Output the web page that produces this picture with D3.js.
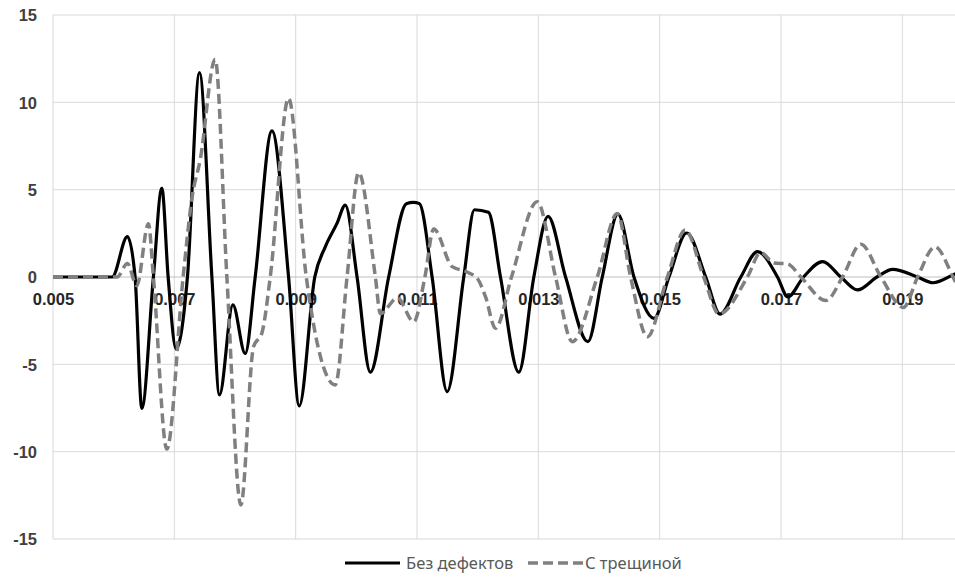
<!DOCTYPE html>
<html>
<head>
<meta charset="utf-8">
<script src="https://cdn.jsdelivr.net/npm/d3@7"></script>
<style>
  html, body { margin: 0; padding: 0; background: #fff; }
  svg { display: block; }
</style>
</head>
<body>
<svg id="chart" width="955" height="579"></svg>
<script>
// ---- data ----
const seriesNames = ["Без дефектов", "С трещиной"];

const tSolid = [0.005000, 0.005974, 0.006226, 0.006353, 0.006464, 0.006655, 0.006794, 0.006898, 0.007030, 0.007216,
  0.007414, 0.007619, 0.007744, 0.007965, 0.008168, 0.008333, 0.008609, 0.008883, 0.009059, 0.009315,
  0.009488, 0.009681, 0.009818, 0.010012, 0.010231, 0.010533, 0.010825, 0.010941, 0.011040, 0.011249,
  0.011497, 0.011771, 0.011947, 0.012178, 0.012376, 0.012678, 0.012926, 0.013160, 0.013449, 0.013817,
  0.014054, 0.014312, 0.014576, 0.014906, 0.015153, 0.015446, 0.015759, 0.015995, 0.016337, 0.016612,
  0.016942, 0.017112, 0.017371, 0.017685, 0.017987, 0.018262, 0.018581, 0.018840, 0.019252, 0.019505,
  0.019884, 0.020000];
const vSolid = [0, 0, 2.31, 0, -7.52, 0, 5.08, 0, -4.12, 0,
  11.7, 0, -6.75, -1.6, -4.38, 0, 8.37, 0, -7.38, 0,
  1.73, 3.07, 4.12, 0, -5.45, 0, 4.2, 4.27, 4.2, 0,
  -6.56, 0, 3.85, 3.7, 0, -5.45, 0, 3.47, 0, -3.7,
  0, 3.6, 0, -2.37, 0, 2.52, 0, -2.12, 0, 1.45,
  0, -1.14, 0, 0.88, 0, -0.74, 0, 0.44, 0, -0.33,
  0.2, 0.35];

const tCrack = [0.005000, 0.006056, 0.006226, 0.006381, 0.006573, 0.006655, 0.006876, 0.007145, 0.007294, 0.007426,
  0.007673, 0.007866, 0.008097, 0.008305, 0.008444, 0.008581, 0.008883, 0.009175, 0.009653, 0.009847,
  0.010038, 0.010314, 0.010396, 0.010677, 0.010946, 0.011130, 0.011276, 0.011579, 0.011815, 0.011997,
  0.012129, 0.012294, 0.012558, 0.012982, 0.013284, 0.013559, 0.013972, 0.014302, 0.014521, 0.014797,
  0.015127, 0.015421, 0.015726, 0.015978, 0.016447, 0.016667, 0.016886, 0.017107, 0.017327, 0.017739,
  0.018015, 0.018317, 0.018647, 0.019018, 0.019252, 0.019538, 0.019835, 0.020000];
const vCrack = [0, 0, 0.78, -0.5, 3.05, 0, -9.85, 0, 4.6, 6.7,
  12.46, 0, -13.05, -4.0, -3.2, 0, 10.23, 0, -6.18, 0,
  5.97, 0, -2.1, -1.2, -2.56, 0, 2.75, 0.59, 0.3, -0.1,
  -1.13, -2.94, 0, 4.31, 0, -3.7, 0, 3.64, 0, -3.42,
  0, 2.69, 0, -2.12, 0, 1.4, 0.8, 0.75, 0, -1.35,
  0, 1.88, 0, -1.74, 0, 1.73, 0, -1.2];

const xTicks = [0.005, 0.007, 0.009, 0.011, 0.013, 0.015, 0.017, 0.019];
const xTickLabels = ["0.005", "0.007", "0.009", "0.011", "0.013", "0.015", "0.017", "0.019"];
const yTicks = [-15, -10, -5, 0, 5, 10, 15];
const yTickLabels = ["-15", "-10", "-5", "0", "5", "10", "15"];

// ---- chart ----
const svg = d3.select("#chart");
const W = 955, H = 579;
const x = d3.scaleLinear().domain([0.005, 0.020]).range([53, 963]);
const y = d3.scaleLinear().domain([-15, 15]).range([539, 15]);

const defs = svg.append("defs");
defs.append("clipPath").attr("id", "plotclip")
  .append("rect").attr("x", 53).attr("y", 0).attr("width", W - 53).attr("height", 545);

// gridlines
const grid = svg.append("g");
grid.selectAll("line.h").data(yTicks.filter(d => d !== 0)).join("line")
  .attr("x1", 53).attr("x2", W)
  .attr("y1", d => y(d)).attr("y2", d => y(d))
  .attr("stroke", "#d9d9d9").attr("stroke-width", 1);
grid.selectAll("line.v").data(xTicks).join("line")
  .attr("x1", d => x(d)).attr("x2", d => x(d))
  .attr("y1", y(15)).attr("y2", y(-15))
  .attr("stroke", "#d9d9d9").attr("stroke-width", 1);
// zero axis line
grid.append("line")
  .attr("x1", 53).attr("x2", W).attr("y1", y(0)).attr("y2", y(0))
  .attr("stroke", "#bfbfbf").attr("stroke-width", 1.2);

// y axis labels
const yAxis = d3.axisLeft(y).tickValues(yTicks).tickSize(0).tickPadding(0)
  .tickFormat((d, i) => yTickLabels[i]);
const gy = svg.append("g").attr("transform", "translate(37,0)").call(yAxis);
gy.select(".domain").remove();
gy.selectAll("text")
  .attr("fill", "#404040").attr("font-family", "'Liberation Sans', Arial, sans-serif")
  .attr("font-size", 16.5).attr("font-weight", "bold").attr("dy", "0.35em");

// x axis labels along zero line
const xAxis = d3.axisBottom(x).tickValues(xTicks).tickSize(0).tickPadding(0)
  .tickFormat((d, i) => xTickLabels[i]);
const gx = svg.append("g").attr("transform", `translate(0,${y(0)})`).call(xAxis);
gx.select(".domain").remove();
gx.selectAll("text")
  .attr("fill", "#262626").attr("font-family", "'Liberation Sans', Arial, sans-serif")
  .attr("font-size", 16.5).attr("font-weight", "bold").attr("dy", "1.72em");

// lines
const line = d3.line().x(d => x(d[0])).y(d => y(d[1])).curve(d3.curveMonotoneX);
const solidData = tSolid.map((t, i) => [t, vSolid[i]]);
const crackData = tCrack.map((t, i) => [t, vCrack[i]]);

const plot = svg.append("g").attr("clip-path", "url(#plotclip)");
plot.append("path").datum(solidData).attr("d", line)
  .attr("fill", "none").attr("stroke", "#000").attr("stroke-width", 3.2)
  .attr("stroke-linejoin", "round");
plot.append("path").datum(crackData).attr("d", line)
  .attr("fill", "none").attr("stroke", "#808080").attr("stroke-width", 3.5)
  .attr("stroke-dasharray", "10,5").attr("stroke-linejoin", "round");

// legend
const lg = svg.append("g");
const ly = 563;
lg.append("line").attr("x1", 345).attr("x2", 400).attr("y1", ly).attr("y2", ly)
  .attr("stroke", "#000").attr("stroke-width", 3.2);
lg.append("text").attr("x", 406).attr("y", ly).attr("dy", "0.35em")
  .attr("font-family", "'Noto Sans', 'Open Sans', sans-serif").attr("font-size", 16.5)
  .attr("fill", "#595959").text(seriesNames[0]);
lg.append("line").attr("x1", 528).attr("x2", 583).attr("y1", ly).attr("y2", ly)
  .attr("stroke", "#808080").attr("stroke-width", 3.5).attr("stroke-dasharray", "10,5");
lg.append("text").attr("x", 585).attr("y", ly).attr("dy", "0.35em")
  .attr("font-family", "'Noto Sans', 'Open Sans', sans-serif").attr("font-size", 16.5)
  .attr("fill", "#595959").text(seriesNames[1]);
</script>
</body>
</html>
